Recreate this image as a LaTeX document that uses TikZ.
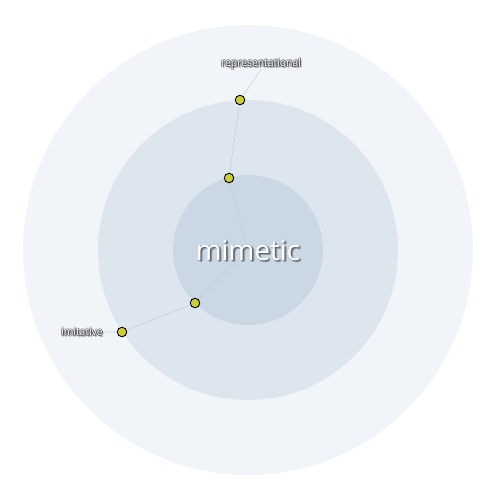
\documentclass[tikz,border=0pt]{standalone}
\usepackage{fontspec}
\setmainfont{Open Sans}
\usepackage{tikz}
\usetikzlibrary{positioning,shadows,backgrounds}
\definecolor{ringout}{HTML}{F1F5F9}
\definecolor{ringmid}{HTML}{DDE6EF}
\definecolor{ringin}{HTML}{CAD8E5}
\definecolor{dotfill}{HTML}{CDCD34}
\definecolor{linkcol}{HTML}{BFCFDD}
\pgfdeclarelayer{links}
\pgfsetlayers{background,links,main}

\begin{document}
\begin{tikzpicture}[x=0.02cm, y=-0.02cm,
    ring/.style={circle, draw=none, inner sep=0pt},
    dot/.style={circle, draw=black, line width=0.5pt, fill=dotfill,
                inner sep=0pt, minimum size=0.19cm,
                drop shadow={shadow xshift=0.3pt, shadow yshift=-0.3pt, opacity=0.4}},
    link/.style={draw=linkcol, line width=0.3pt},
    halo/.style={text=black!85, opacity=0.4},
    word/.style={text=white},
    tag/.style={font=\fontsize{5.9}{6}\selectfont, inner sep=0pt},
    title/.style={font=\fontsize{15.8}{18}\selectfont, inner sep=0pt}
]
    \begin{pgfonlayer}{background}
    \fill[white] (0,0) rectangle (500,500);
    % rings
    \node[ring, fill=ringout, minimum size=9cm] (outer) at (248,250) {};
    \node[ring, fill=ringmid, minimum size=6cm] (middle) at (248,250) {};
    \node[ring, fill=ringin, minimum size=3cm] (inner) at (248,250) {};
    \end{pgfonlayer}
    \useasboundingbox (0,0) rectangle (500,500);
    \coordinate (hub) at (248,250);

    % points
    \node[dot] (up1) at (229,178) {};
    \node[dot] (up2) at (240,100) {};
    \node[dot] (lo1) at (195,303) {};
    \node[dot] (lo2) at (122,332) {};

    % labels with dark halo
    \foreach \dx/\dy [count=\i] in {-0.9/0, 0.9/0, 0/-0.9, 0/0.9, 1/1, -0.7/0.7, 0.7/-0.7, 1.5/1.5} {
        \node[tag, halo] (reprsh\i) at (261+\dx,64+\dy) {representational};
        \node[tag, halo] (imitsh\i) at (82+\dx,332+\dy) {imitative};
    }
    \node[tag, word] (repr) at (261,64) {representational};
    \node[tag, word] (imit) at (82,332) {imitative};

    % links
    \begin{pgfonlayer}{links}
    \draw[link] (hub) -- (up1) -- (up2) -- (repr.south);
    \draw[link] (hub) -- (lo1) -- (lo2) -- (imit.east);
    \end{pgfonlayer}

    % centre word
    \foreach \dx/\dy [count=\i] in {1/1, 2/2, 1.5/2.5, 2.5/1.5, 0.5/1.5, 1.5/0.5} {
        \node[title, text=black!80, opacity=0.2] (mainsh\i) at (248+\dx,250+\dy) {mimetic};
    }
    \node[title, word] (main) at (248,250) {mimetic};
\end{tikzpicture}
\end{document}
